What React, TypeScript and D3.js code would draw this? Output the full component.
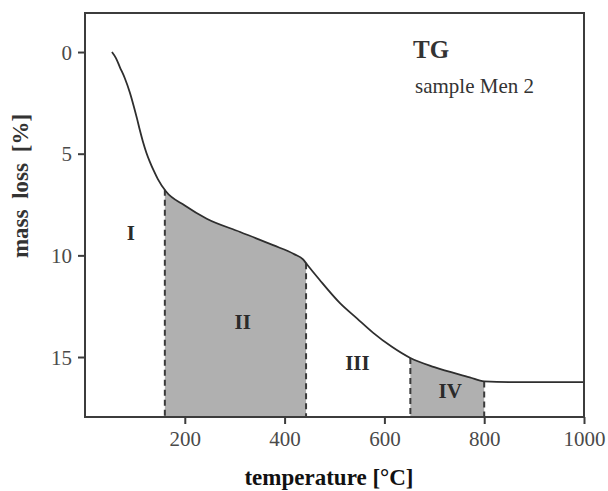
import React, { useRef, useEffect } from 'react'
import * as d3 from 'd3'

// TG curve: temperature [°C] vs mass loss [%]
const temps = [54, 62, 70, 80, 90, 97, 104, 110, 116, 123, 130, 138, 146, 162, 200, 244, 311, 377, 420, 437, 445, 470, 511, 545, 577, 615, 652, 700, 771, 800, 850, 1000]
const massLoss = [0, 0.3, 0.75, 1.3, 2.0, 2.6, 3.25, 3.85, 4.4, 4.95, 5.4, 5.85, 6.25, 6.85, 7.55, 8.2, 8.85, 9.5, 9.95, 10.2, 10.45, 11.2, 12.35, 13.1, 13.8, 14.5, 15.05, 15.5, 16.0, 16.2, 16.23, 16.23]

const xTicks = [200, 400, 600, 800, 1000]
const yTicks = [0, 5, 10, 15]

// shaded stages and their labels
const stages = [
  { name: 'II', from: 160, to: 443 },
  { name: 'IV', from: 652, to: 800 },
]
const stageLabels = [
  { text: 'I', t: 92, m: 8.9 },
  { text: 'II', t: 316, m: 13.25 },
  { text: 'III', t: 546, m: 15.3 },
  { text: 'IV', t: 732, m: 16.65 },
]

export default function App() {
  const ref = useRef<SVGSVGElement>(null)

  useEffect(() => {
    const svg = d3.select(ref.current)
    svg.selectAll('*').remove()
    const left = 85, right = 584, top = 13, bottom = 417
    const x = d3.scaleLinear().domain([0, 1000]).range([left, right])
    const y = d3.scaleLinear().domain([-1.92, 17.95]).range([top, bottom])
    const data = temps.map((t, i) => ({ t, m: massLoss[i] }))
    const font = '"Liberation Serif", "Times New Roman", serif'
    const curve = d3.curveMonotoneX

    // interpolate the curve at a temperature for region edges
    const at = (t: number) => {
      const i = d3.bisector((d: any) => d.t).left(data, t)
      if (i <= 0) return data[0].m
      const a = data[i - 1], b = data[i]
      return a.m + (b.m - a.m) * (t - a.t) / (b.t - a.t)
    }

    const area = d3.area<any>().x(d => x(d.t)).y0(y(17.95)).y1(d => y(d.m)).curve(curve)
    stages.forEach(s => {
      const pts = [{ t: s.from, m: at(s.from) }, ...data.filter(d => d.t > s.from && d.t < s.to), { t: s.to, m: at(s.to) }]
      svg.append('path').attr('d', area(pts)).attr('fill', '#b0b0b0')
      ;[s.from, s.to].forEach(t => {
        svg.append('line')
          .attr('x1', x(t)).attr('x2', x(t))
          .attr('y1', y(at(t))).attr('y2', bottom)
          .attr('stroke', '#3a3a3a').attr('stroke-width', 2)
          .attr('stroke-dasharray', '6,4')
      })
    })

    const line = d3.line<any>().x(d => x(d.t)).y(d => y(d.m)).curve(curve)
    svg.append('path').attr('d', line(data))
      .attr('fill', 'none').attr('stroke', '#2e2e2e').attr('stroke-width', 1.8)

    // frame
    svg.append('rect').attr('x', left).attr('y', top)
      .attr('width', right - left).attr('height', bottom - top)
      .attr('fill', 'none').attr('stroke', '#3c3c3c').attr('stroke-width', 2)

    const xAxis = svg.append('g').attr('transform', `translate(0,${bottom})`)
      .call(d3.axisBottom(x).tickValues(xTicks).tickFormat(d3.format('d')).tickSize(7).tickPadding(7))
    const yAxis = svg.append('g').attr('transform', `translate(${left},0)`)
      .call(d3.axisLeft(y).tickValues(yTicks).tickFormat(d3.format('d')).tickSize(7).tickPadding(6))
    ;[xAxis, yAxis].forEach(g => {
      g.select('.domain').remove()
      g.selectAll('line').attr('stroke', '#3c3c3c').attr('stroke-width', 2)
      g.selectAll('text').attr('font-family', font).attr('font-size', 21).attr('fill', '#4a4a4a')
    })
    yAxis.selectAll('text').attr('dy', '0.34em')

    stageLabels.forEach(l => {
      svg.append('text').attr('x', x(l.t)).attr('y', y(l.m)).attr('dy', '0.35em')
        .attr('text-anchor', 'middle').attr('font-family', font).attr('font-weight', 'bold')
        .attr('font-size', 21).attr('fill', '#2a2a2a').text(l.text)
    })

    svg.append('text').attr('x', 413).attr('y', 58).attr('font-family', font)
      .attr('font-weight', 'bold').attr('font-size', 25).attr('fill', '#333').text('TG')
    svg.append('text').attr('x', 415).attr('y', 93).attr('font-family', font)
      .attr('font-size', 21).attr('fill', '#333').text('sample Men 2')

    svg.append('text').attr('x', 329).attr('y', 485).attr('text-anchor', 'middle')
      .attr('font-family', font).attr('font-weight', 'bold').attr('font-size', 23)
      .attr('fill', '#111').text('temperature [°C]')
    svg.append('text').attr('transform', 'translate(28,186) rotate(-90)').attr('text-anchor', 'middle')
      .attr('font-family', font).attr('font-weight', 'bold').attr('font-size', 23)
      .attr('word-spacing', 5)
      .attr('fill', '#333').text('mass loss [%]')
  })

  return (
    <svg ref={ref} width={608} height={491}
      style={{ position: 'absolute', left: 0, top: 0, background: '#fff' }} />
  )
}
